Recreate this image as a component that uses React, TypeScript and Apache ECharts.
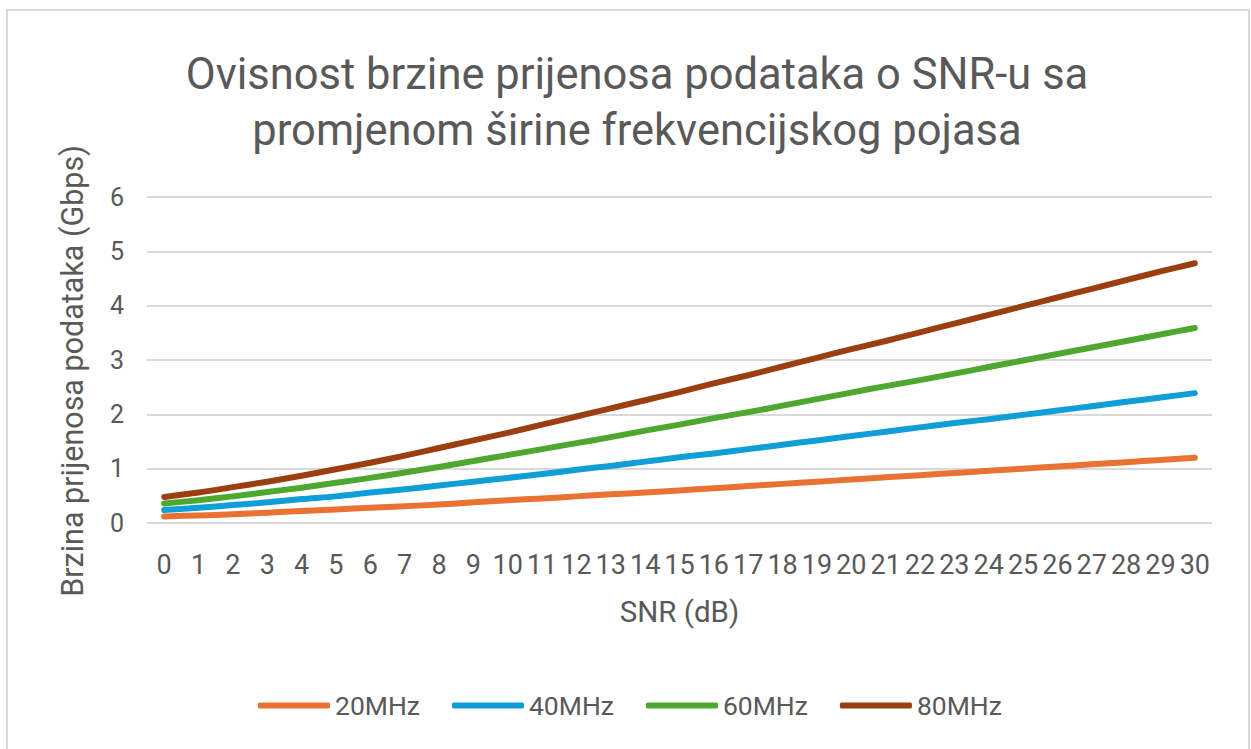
import React, { useEffect, useRef } from "react";
import * as echarts from "echarts";

const snr = ["0","1","2","3","4","5","6","7","8","9","10","11","12","13","14","15","16","17","18","19","20","21","22","23","24","25","26","27","28","29","30"];
const mhz20 = [0.12,0.14,0.16,0.19,0.22,0.25,0.28,0.31,0.34,0.38,0.42,0.45,0.49,0.53,0.56,0.60,0.64,0.68,0.72,0.76,0.80,0.84,0.88,0.92,0.96,1.00,1.04,1.08,1.12,1.16,1.20];
const mhz40 = [0.24,0.28,0.33,0.38,0.44,0.49,0.56,0.62,0.69,0.76,0.83,0.90,0.98,1.05,1.13,1.21,1.28,1.36,1.44,1.52,1.60,1.68,1.76,1.84,1.91,1.99,2.07,2.15,2.23,2.31,2.39];
const mhz60 = [0.36,0.42,0.49,0.57,0.65,0.74,0.83,0.93,1.03,1.14,1.25,1.36,1.47,1.58,1.70,1.81,1.93,2.04,2.16,2.28,2.40,2.52,2.63,2.75,2.87,2.99,3.11,3.23,3.35,3.47,3.59];
const mhz80 = [0.48,0.56,0.66,0.76,0.87,0.99,1.11,1.24,1.38,1.52,1.66,1.81,1.96,2.11,2.26,2.41,2.57,2.72,2.88,3.04,3.20,3.35,3.51,3.67,3.83,3.99,4.15,4.31,4.47,4.63,4.78];
const seriesNames = ["20MHz","40MHz","60MHz","80MHz"];
const seriesColors = ["#E97132","#0F9ED5","#4EA72E","#9C3F10"];

const FONT = "Roboto, sans-serif";
const GREY = "#595959";

export default function App() {
  const ref = useRef<HTMLDivElement>(null);
  useEffect(() => {
    if (!ref.current) return;
    const chart = echarts.init(ref.current, null, { renderer: "svg" });
    const data = [mhz20, mhz40, mhz60, mhz80];
    chart.setOption({
      animation: false,
      backgroundColor: "#ffffff",
      textStyle: { fontFamily: FONT, color: GREY },
      graphic: [
        {
          type: "rect",
          shape: { x: 7, y: 10, width: 1242, height: 780 },
          style: { fill: "none", stroke: "#d9d9d9", lineWidth: 2 },
          silent: true,
        },
      ],
      title: {
        text: "Ovisnost brzine prijenosa podataka o SNR-u sa\npromjenom širine frekvencijskog pojasa",
        left: 632,
        textAlign: "center",
        top: 41,
        textStyle: { fontFamily: FONT, fontSize: 43.5, fontWeight: "normal", color: GREY, lineHeight: 56 },
      },
      legend: {
        bottom: 25,
        left: 253,
        itemWidth: 72,
        itemHeight: 6,
        itemGap: 32,
        icon: "roundRect",
        textStyle: { fontFamily: FONT, fontSize: 26.5, color: GREY },
        data: seriesNames,
      },
      grid: { left: 147, right: 39, top: 197, bottom: 226, containLabel: false },
      xAxis: {
        type: "category",
        data: snr,
        boundaryGap: true,
        name: "SNR (dB)",
        nameLocation: "middle",
        nameGap: 74,
        nameTextStyle: { fontFamily: FONT, fontSize: 29.5, color: GREY },
        axisLine: { show: false },
        axisTick: { show: false },
        axisLabel: { interval: 0, fontSize: 27, color: GREY, margin: 28, fontFamily: FONT },
      },
      yAxis: {
        type: "value",
        min: 0,
        max: 6,
        interval: 1,
        name: "Brzina prijenosa podataka (Gbps)",
        nameLocation: "middle",
        nameGap: 59,
        nameTextStyle: { fontFamily: FONT, fontSize: 30.5, color: GREY, padding: [0, 22, 0, 0] },
        axisLine: { show: false },
        axisTick: { show: false },
        axisLabel: { fontSize: 25, color: GREY, margin: 23, fontFamily: FONT },
        splitLine: { lineStyle: { color: "#d9d9d9", width: 2 } },
      },
      series: seriesNames.map((n, i) => ({
        name: n,
        type: "line",
        data: data[i],
        smooth: 0.3,
        symbol: "none",
        lineStyle: { color: seriesColors[i], width: 6, cap: "round", join: "round" },
        itemStyle: { color: seriesColors[i] },
      })),
    });
    return () => chart.dispose();
  }, []);
  return <div ref={ref} style={{ position: "fixed", left: 0, top: 0, width: 1251, height: 749 }} />;
}
